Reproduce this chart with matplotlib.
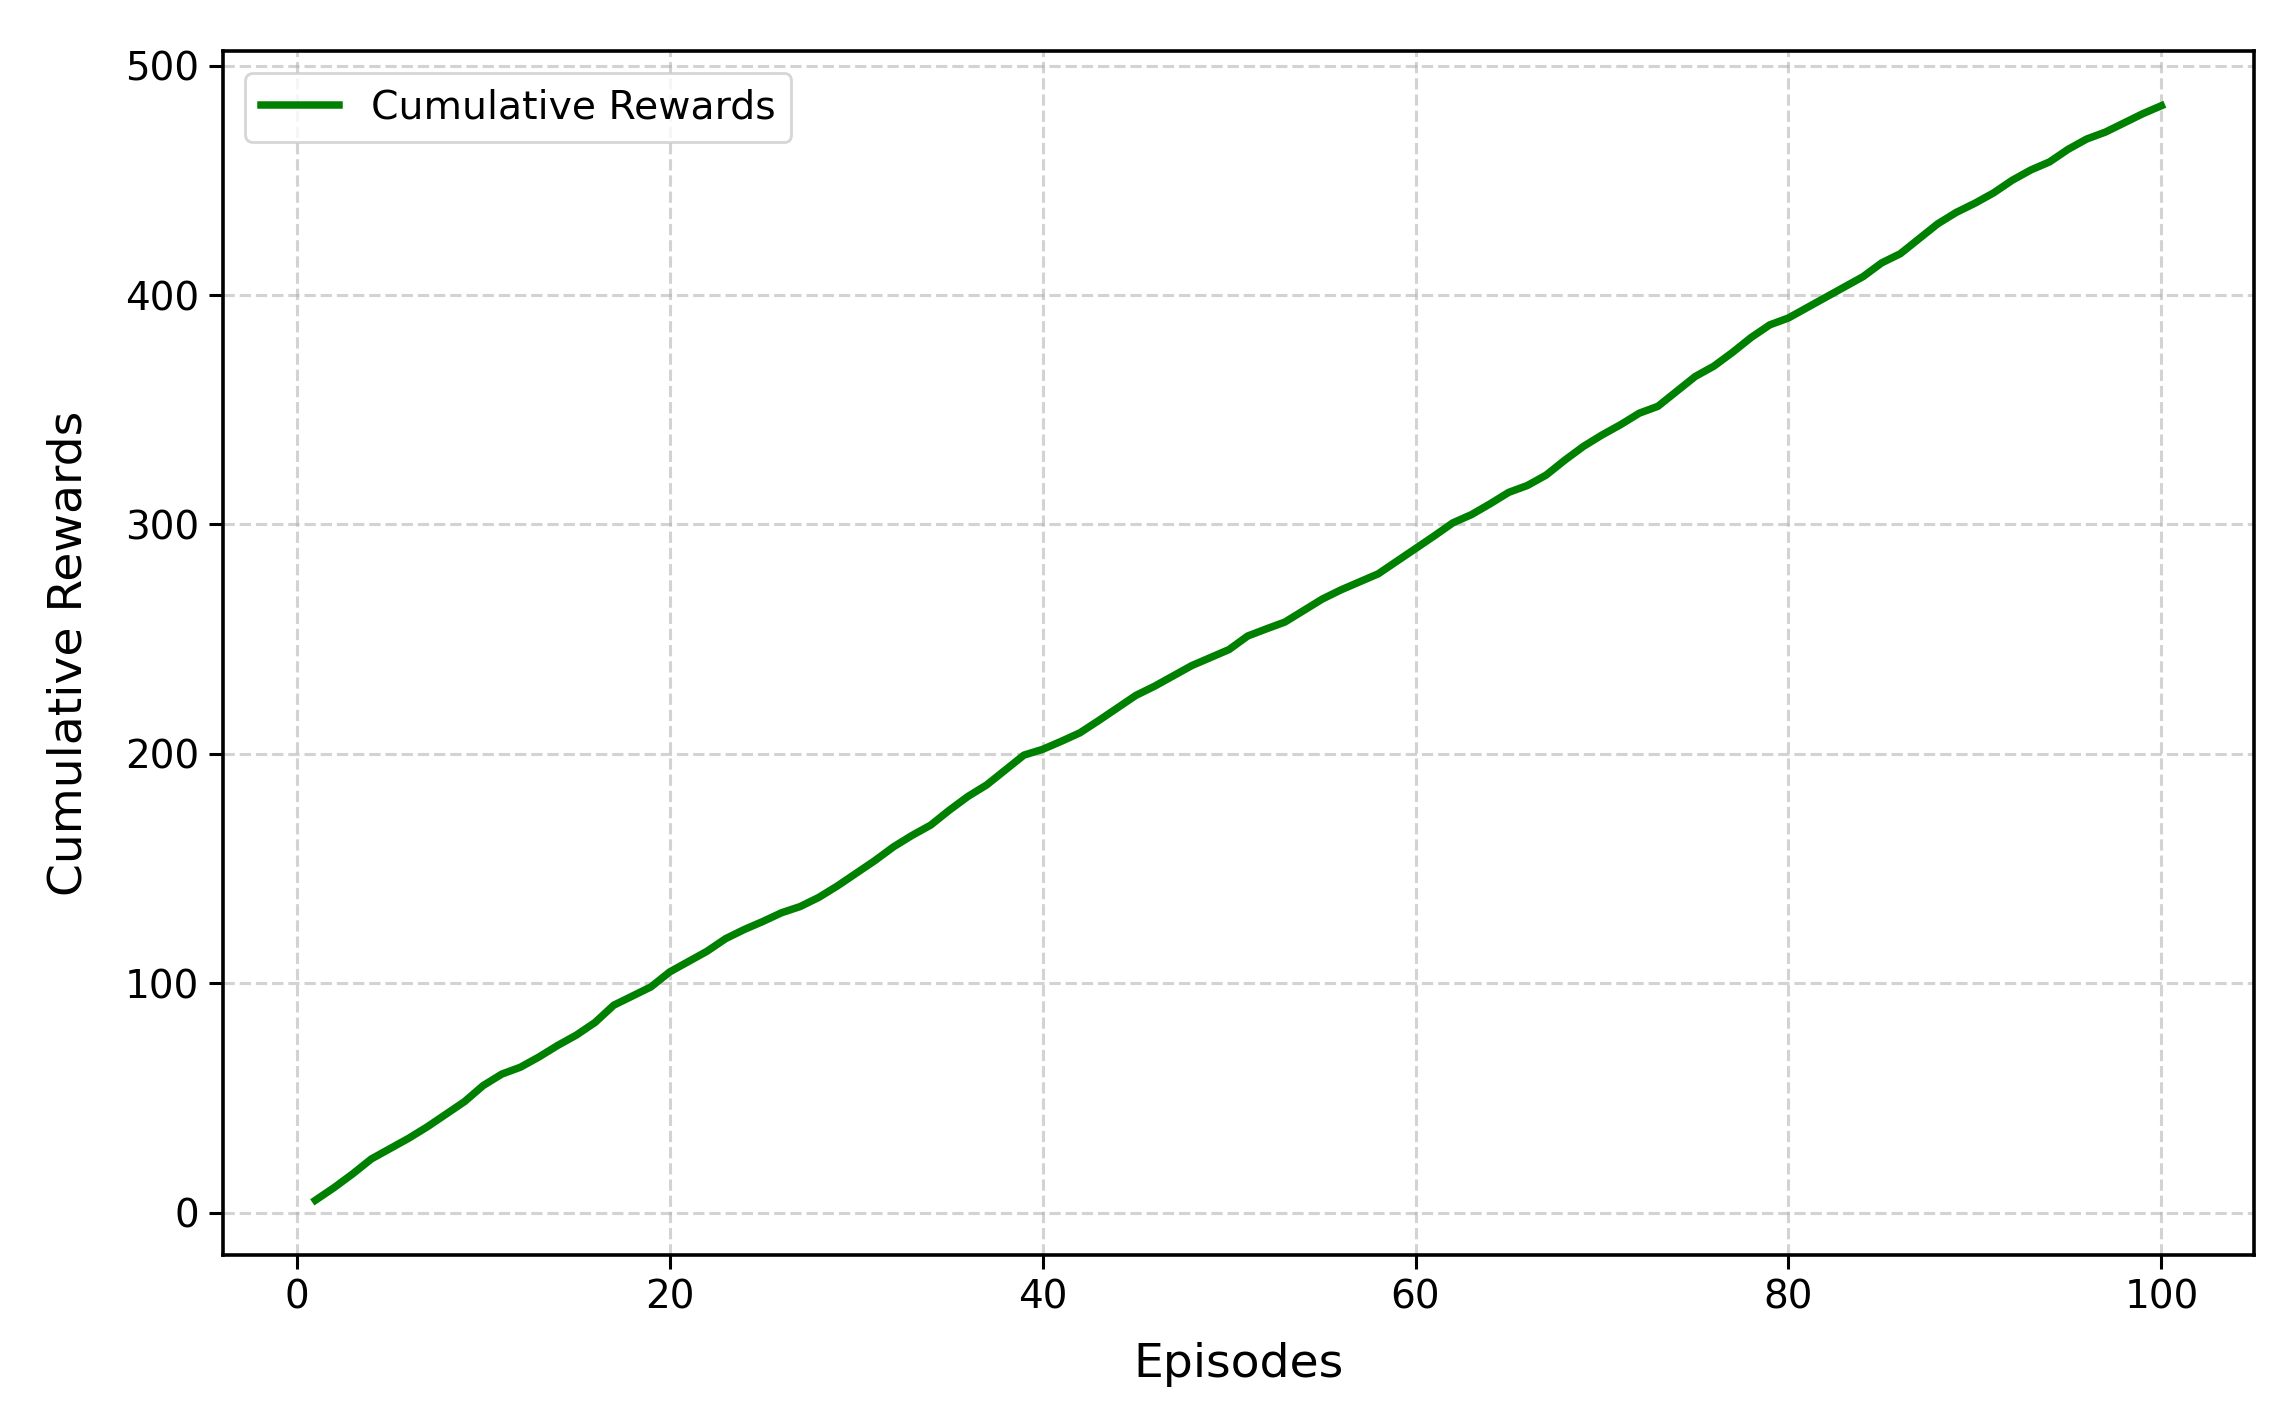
import numpy as np
import matplotlib
matplotlib.use("Agg")
from matplotlib import pyplot as plt

# episodes and cumulative rewards
episodes = np.arange(1, 101)
cumulative_rewards = [
    5.5, 11, 17, 23.5, 28, 32.5, 37.5, 43, 48.5, 55.5,
    60.5, 63.5, 68, 73, 77.5, 83, 90.5, 94.5, 98.5, 105,
    109.5, 114, 119.5, 123.5, 127, 130.8, 133.5, 137.5, 142.5, 148,
    153.5, 159.5, 164.5, 169, 175.5, 181.5, 186.5, 193, 199.5, 202,
    205.5, 209.2, 214.5, 220, 225.5, 229.5, 234, 238.5, 242, 245.5,
    251.4, 254.5, 257.5, 262.5, 267.5, 271.5, 275, 278.5, 284, 289.5,
    295, 300.7, 304.3, 309, 314, 317, 321.5, 328, 334, 339,
    343.5, 348.5, 351.5, 358, 364.5, 369, 375, 381.5, 387, 390,
    394.5, 399, 403.5, 408, 414, 418, 424.5, 431, 436, 440,
    444.5, 450, 454.5, 458, 463.5, 468, 471, 475, 479, 482.5,
]
x_ticks = [0, 20, 40, 60, 80, 100]
y_ticks = [0, 100, 200, 300, 400, 500]

plt.rcParams['font.family'] = ['DejaVu Sans']

fig, ax = plt.subplots(figsize=(11.44, 7.08), dpi=200)
plt.subplots_adjust(left=0.0975, right=0.985, bottom=0.1137, top=0.964)

ax.plot(episodes, cumulative_rewards, color='green', linewidth=2.7, label='Cumulative Rewards')

ax.set_xticks(x_ticks)
ax.set_yticks(y_ticks)
ax.tick_params(labelsize=14, length=5, width=1.1)
for s in ax.spines.values():
    s.set_linewidth(1.3)

ax.set_xlabel('Episodes', fontsize=17, labelpad=9)
ax.set_ylabel('Cumulative Rewards', fontsize=17, labelpad=12)
ax.grid(True, linestyle='--', linewidth=1.1, color='#b0b0b0', alpha=0.55)
ax.legend(loc='upper left', fontsize=14.2, borderaxespad=0.55)

fig.savefig('out.png', dpi=200)
